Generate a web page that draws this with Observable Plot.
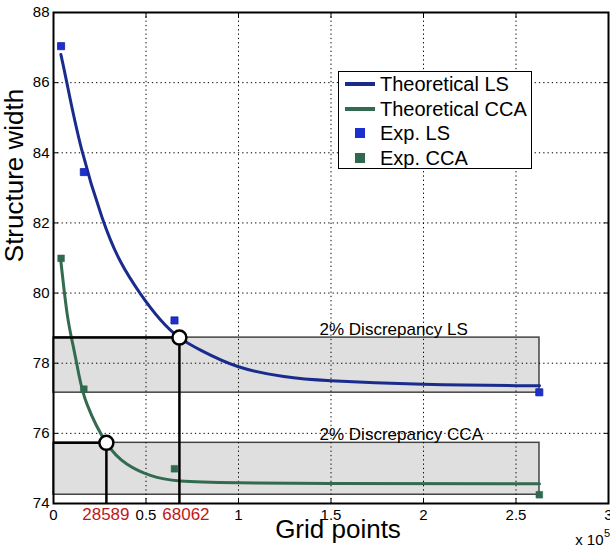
<!DOCTYPE html>
<html>
<head>
<meta charset="utf-8">
<script src="https://cdn.jsdelivr.net/npm/d3@7"></script>
<script src="https://cdn.jsdelivr.net/npm/@observablehq/plot@0.6"></script>
<style>
  body { margin: 0; background: #fff; }
  #wrap { position: relative; width: 610px; height: 550px; font-family: "Liberation Sans", Arial, sans-serif; }
  #legend { position: absolute; left: 338px; top: 71px; width: 194px; height: 98px; border: 1px solid #000; background: #fff; box-sizing: border-box; }
  #legend .row { position: absolute; left: 0; height: 24px; line-height: 24px; font-size: 20px; color: #000; white-space: nowrap; }
  #legend .sw { position: absolute; }
  #legend .lbl { position: absolute; left: 41px; top: 0; }
</style>
</head>
<body>
<div id="wrap"><div id="legend"></div></div>
<script>
// ---- data ----
const xTicks = [0, 50000, 100000, 150000, 200000, 250000, 300000];
const xTickLabels = ["0", "0.5", "1", "1.5", "2", "2.5", "3"];
const yTicks = [74, 76, 78, 80, 82, 84, 86, 88];

const lsCurveX = [4000, 7400, 15100, 26300, 36200, 47000, 57800, 68062, 80000, 100000, 124500, 150000, 200000, 250000, 262700];
const lsCurveY = [86.8, 85.95, 84.12, 82.15, 80.9, 79.98, 79.24, 78.73, 78.36, 77.9, 77.62, 77.5, 77.4, 77.36, 77.36];

const ccaCurveX = [4000, 7400, 10600, 13700, 18200, 28589, 39800, 52400, 68600, 100000, 150000, 262700];
const ccaCurveY = [80.9, 79.4, 78.5, 77.68, 76.82, 75.73, 75.12, 74.8, 74.64, 74.59, 74.57, 74.56];

const expX = [4100, 16400, 65400, 262600];
const expLS = [87.04, 83.45, 79.22, 77.17];
const expCCA = [80.99, 77.26, 74.99, 74.25];

const thresholdX = [68062, 28589];
const thresholdY = [78.73, 75.73];
const bandLow = [77.16, 74.25];
const bandHigh = [78.73, 75.73];
const bandEnd = 262700;
const bandLabels = ["2% Discrepancy LS", "2% Discrepancy CCA"];
const bandLabelX = 143800;

const legendLabels = ["Theoretical LS", "Theoretical CCA", "Exp. LS", "Exp. CCA"];
const legendKinds = ["line", "line", "square", "square"];

const colLSLine = "#1a2b8e", colLSDot = "#1c30d0";
const colCCALine = "#336b51", colCCADot = "#2f6a4e";
const legendColors = [colLSLine, colCCALine, colLSDot, colCCADot];

// ---- tables ----
const lsCurve = lsCurveX.map((x, i) => ({x, y: lsCurveY[i]}));
const ccaCurve = ccaCurveX.map((x, i) => ({x, y: ccaCurveY[i]}));
const expLSData = expX.map((x, i) => ({x, y: expLS[i]}));
const expCCAData = expX.map((x, i) => ({x, y: expCCA[i]}));
const thresholds = thresholdX.map((x, i) => ({x, y: thresholdY[i]}));
const bands = bandLow.map((lo, i) => ({lo, hi: bandHigh[i], label: bandLabels[i]}));

const dotted = {stroke: "black", strokeOpacity: 1, strokeWidth: 1, strokeDasharray: "1.3,3"};
const redLabel = {y: 74, text: d => String(d.x), fill: "#c01818", fontSize: 17, lineAnchor: "middle", dy: 11.5};

const chart = Plot.plot({
  width: 610,
  height: 550,
  marginLeft: 53,
  marginRight: 2,
  marginTop: 12,
  marginBottom: 47,
  style: {fontFamily: "'Liberation Sans', Arial, sans-serif", fontSize: "15px", background: "transparent", overflow: "visible", color: "black"},
  x: {domain: [0, 300000]},
  y: {domain: [74, 88]},
  marks: [
    Plot.rect(bands, {x1: 0, x2: bandEnd, y1: "lo", y2: "hi", fill: "#dfdfdf", stroke: "#444", strokeWidth: 1.5}),
    Plot.gridX(xTicks.slice(1, -1), dotted),
    Plot.gridY(yTicks.slice(1, -1), dotted),
    Plot.axisX(xTicks, {tickSize: -5, tickPadding: 11, tickFormat: d => xTickLabels[xTicks.indexOf(d)], label: null}),
    Plot.axisX(xTicks, {anchor: "top", tickSize: -5, tickFormat: () => "", label: null}),
    Plot.axisY(yTicks, {tickSize: -5, tickPadding: 9, label: null}),
    Plot.axisY(yTicks, {anchor: "right", tickSize: -5, tickFormat: () => "", label: null}),
    Plot.text(bands, {x: bandLabelX, y: "hi", text: "label", textAnchor: "start", lineAnchor: "bottom", dy: -3, fontSize: 17}),
    Plot.line(lsCurve, {x: "x", y: "y", stroke: colLSLine, strokeWidth: 3, curve: "natural"}),
    Plot.line(ccaCurve, {x: "x", y: "y", stroke: colCCALine, strokeWidth: 3, curve: "natural"}),
    Plot.ruleY(thresholds, {x1: 0, x2: "x", y: "y", stroke: "black", strokeWidth: 2.5}),
    Plot.ruleX(thresholds, {x: "x", y1: 74, y2: "y", stroke: "black", strokeWidth: 2.5}),
    Plot.dot(thresholds, {x: "x", y: "y", r: 7, fill: "white", stroke: "black", strokeWidth: 2.5}),
    Plot.dot(expLSData, {x: "x", y: "y", symbol: "square", r: 4, fill: colLSDot, stroke: "#14229a", strokeWidth: 0.8}),
    Plot.dot(expCCAData, {x: "x", y: "y", symbol: "square", r: 3.8, fill: colCCADot, stroke: colCCADot, strokeWidth: 0.5}),
    Plot.text(thresholds.slice(0, 1), {x: "x", ...redLabel, dx: 6.5}),
    Plot.text(thresholds.slice(1), {x: "x", ...redLabel, dx: -0.5}),
    Plot.frame({stroke: "black", strokeWidth: 2}),
    Plot.text(["Grid points"], {frameAnchor: "bottom", text: d => d, fontSize: 26, dx: 7, dy: 26.5, lineAnchor: "middle"}),
    Plot.text(["Structure width"], {frameAnchor: "left", text: d => d, fontSize: 26, rotate: -90, lineAnchor: "bottom", dx: -30.3, dy: 4.2}),
    Plot.text(["x 10"], {frameAnchor: "bottom-right", text: d => d, fontSize: 15, textAnchor: "end", lineAnchor: "bottom", dx: -5, dy: 41}),
    Plot.text(["5"], {frameAnchor: "bottom-right", text: d => d, fontSize: 11, textAnchor: "start", lineAnchor: "bottom", dx: -4.5, dy: 33})
  ]
});
const wrap = document.getElementById("wrap");
wrap.insertBefore(chart, wrap.firstChild);
chart.style.position = "absolute";
chart.style.left = "0";
chart.style.top = "0";

// legend
const legend = document.getElementById("legend");
const rowCenters = [12.3, 37, 61, 86];
legendLabels.forEach((lab, i) => {
  const row = document.createElement("div");
  row.className = "row";
  row.style.top = (rowCenters[i] - 12) + "px";
  row.style.width = "190px";
  const sw = document.createElement("div");
  sw.className = "sw";
  if (legendKinds[i] === "line") {
    sw.style.left = "6px"; sw.style.width = "30px"; sw.style.top = "10px"; sw.style.height = "4px";
  } else {
    sw.style.left = "16px"; sw.style.width = "10px"; sw.style.top = "7px"; sw.style.height = "10px";
  }
  sw.style.background = legendColors[i];
  const t = document.createElement("span");
  t.className = "lbl";
  t.textContent = lab;
  row.appendChild(sw);
  row.appendChild(t);
  legend.appendChild(row);
});
</script>
</body>
</html>
